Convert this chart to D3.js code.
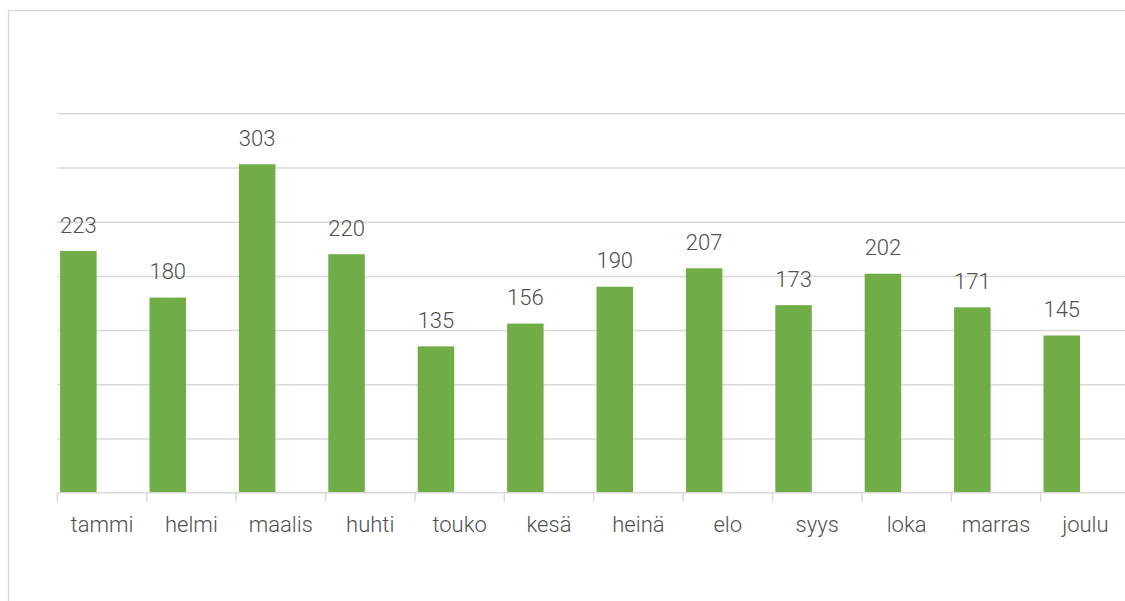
<!DOCTYPE html>
<html>
<head>
<meta charset="utf-8">
<title>Kuukaudet</title>
<script src="https://cdn.jsdelivr.net/npm/d3@7"></script>
<style>
  body { margin: 0; background: #fff; }
  svg text { font-family: Roboto, "Open Sans", sans-serif; font-weight: 300; fill: #505050; }
</style>
</head>
<body>
<div id="chart"></div>
<script>
// data
var months = ["tammi", "helmi", "maalis", "huhti", "touko", "kesä", "heinä", "elo", "syys", "loka", "marras", "joulu"];
var values = [223, 180, 303, 220, 135, 156, 190, 207, 173, 202, 171, 145];
var gridTicks = [50, 100, 150, 200, 250, 300, 350];

var width = 1125, height = 601;
var svg = d3.select("#chart").append("svg")
    .attr("width", width)
    .attr("height", height);

// chart frame (runs off the right and bottom edge)
svg.append("rect")
    .attr("x", 8.5).attr("y", 10.5)
    .attr("width", 1130).attr("height", 620)
    .attr("fill", "none")
    .attr("stroke", "#d9d9d9")
    .attr("stroke-width", 1.5);

var x = d3.scaleBand().domain(months).range([57.3, 57.3 + 12 * 89.4]);
var y = d3.scaleLinear().domain([0, 350]).range([492.7, 113.3]);

// gridlines
svg.append("g")
    .attr("transform", "translate(57.3,0)")
    .call(d3.axisLeft(y).tickValues(gridTicks).tickSize(-1100).tickFormat(""))
    .call(function(g) {
        g.select(".domain").remove();
        g.selectAll("line").attr("stroke", "#d9d9d9").attr("stroke-width", 1.5);
    });

var barW = 36.5, barOff = 2.8;

svg.selectAll("rect.bar").data(values).enter()
    .append("rect")
    .attr("class", "bar")
    .attr("x", function(d, i) { return x(months[i]) + barOff; })
    .attr("y", function(d) { return y(d); })
    .attr("width", barW)
    .attr("height", function(d) { return y(0) - y(d); })
    .attr("fill", "#70ad47");

// x axis: baseline, ticks between categories
var xAxis = svg.append("g").attr("transform", "translate(0," + y(0) + ")");
xAxis.append("line")
    .attr("x1", x.range()[0]).attr("x2", 1125)
    .attr("stroke", "#d9d9d9").attr("stroke-width", 1.5);
xAxis.selectAll("line.tick").data(months).enter()
    .append("line")
    .attr("class", "tick")
    .attr("x1", function(d) { return x(d); })
    .attr("x2", function(d) { return x(d); })
    .attr("y1", 0).attr("y2", 9)
    .attr("stroke", "#d9d9d9").attr("stroke-width", 1.5);
xAxis.selectAll("text").data(months).enter()
    .append("text")
    .attr("x", function(d) { return x(d) + x.bandwidth() / 2; })
    .attr("y", 39)
    .attr("text-anchor", "middle")
    .style("font-size", "22px")
    .text(function(d) { return d; });

// value labels
svg.selectAll("text.val").data(values).enter()
    .append("text")
    .attr("class", "val")
    .attr("x", function(d, i) { return x(months[i]) + barOff + barW / 2; })
    .attr("y", function(d) { return y(d) - 18.4; })
    .attr("text-anchor", "middle")
    .style("font-size", "22px")
    .text(function(d) { return d; });
</script>
</body>
</html>
